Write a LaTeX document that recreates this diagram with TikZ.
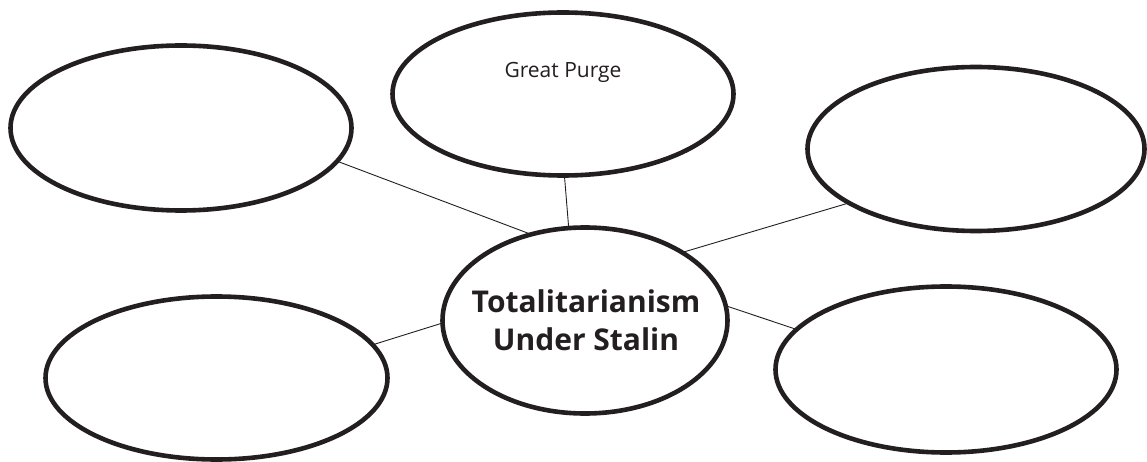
\documentclass[tikz,border=0pt]{standalone}
\usepackage{fontspec}
\setmainfont{Open Sans}
\usetikzlibrary{shapes.geometric}
\definecolor{ink}{HTML}{231F20}
\tikzset{
  bubble/.style={draw=ink, line width=4.6pt, ellipse, inner sep=0pt, outer sep=0pt},
  link/.style={draw=ink, line width=0.9pt},
  hand/.style={text=ink, inner sep=0pt, font=\fontsize{21}{24}\selectfont},
  title/.style={text=ink, inner sep=0pt, align=center, font=\bfseries\fontsize{30}{38}\selectfont}
}
\begin{document}
\begin{tikzpicture}[x=1pt,y=-1pt]
\useasboundingbox[fill=white] (0,0) rectangle (1147,462);
\node[bubble, minimum width=341pt, minimum height=165pt] (tl) at (181,128) {};
\node[bubble, minimum width=341pt, minimum height=163pt] (tp) at (563,94) {};
\node[bubble, minimum width=337pt, minimum height=164pt] (tr) at (976,149) {};
\node[bubble, minimum width=342pt, minimum height=163pt] (bl) at (216.5,378) {};
\node[bubble, minimum width=341pt, minimum height=166pt] (br) at (946,369.5) {};
\node[bubble, minimum width=285pt, minimum height=186pt] (c) at (585,320.5) {};
\node[hand] (gp) at (563,72) {Great Purge};
\node[title] (ct) at (586,320) {Totalitarianism\\Under Stalin};
\draw[link] (tl.-12.4) -- (c.122.8);
\draw[link] (tp.-89.3) -- (c.100.8);
\draw[link] (tr.-157.9) -- (c.35.4);
\draw[link] (bl.12.5) -- (c.181);
\draw[link] (br.165.6) -- (c.6.6);
\end{tikzpicture}
\end{document}
